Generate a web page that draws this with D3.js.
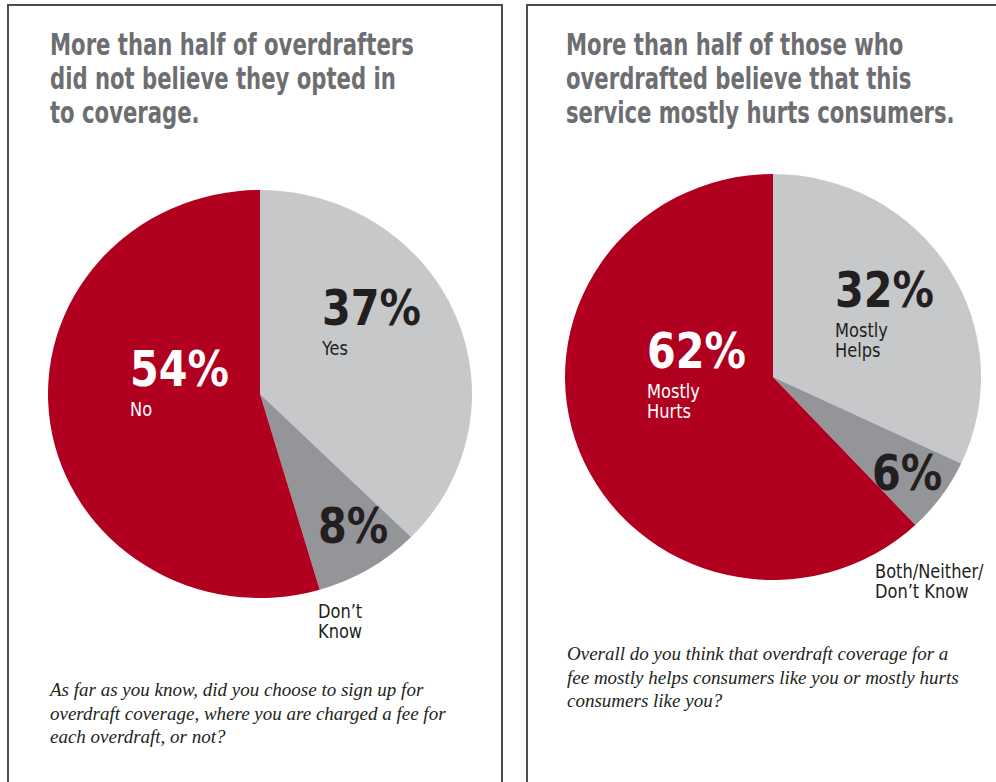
<!DOCTYPE html>
<html>
<head>
<meta charset="utf-8">
<script src="https://cdn.jsdelivr.net/npm/d3@7"></script>
<style>
  body { margin: 0; background: #fff; }
  .title { font-family: "Liberation Sans Narrow", "DejaVu Sans Condensed", "DejaVu Sans", sans-serif; font-weight: bold; fill: #6d6e71; font-size: 30px; }
  .pct { font-family: "Liberation Sans Narrow", "DejaVu Sans Condensed", "DejaVu Sans", sans-serif; font-weight: bold; font-size: 50px; }
  .lbl { font-family: "Liberation Sans Narrow", "DejaVu Sans Condensed", "DejaVu Sans", sans-serif; font-size: 19px; }
  .note { font-family: "Liberation Serif", "DejaVu Serif", serif; font-style: italic; fill: #231f20; font-size: 19px; }
</style>
</head>
<body>
<div id="chart"></div>
<script>
// left pie: did you opt in
const optCategories = ['Yes', "Don\u2019t Know", 'No'];
const optValues = [37, 8, 54];
// right pie: helps or hurts
const helpCategories = ['Mostly Helps', 'Both/Neither/Don\u2019t Know', 'Mostly Hurts'];
const helpValues = [32, 6, 62];

const titles = [
    ['More than half of overdrafters', 'did not believe they opted in', 'to coverage.'],
    ['More than half of those who', 'overdrafted believe that this', 'service mostly hurts consumers.']
];
const notes = [
    ['As far as you know, did you choose to sign up for', 'overdraft coverage, where you are charged a fee for', 'each overdraft, or not?'],
    ['Overall do you think that overdraft coverage for a', 'fee mostly helps consumers like you or mostly hurts', 'consumers like you?']
];

const width = 996, height = 782;
const colors = d3.scaleOrdinal().domain([0, 1, 2]).range(['#c7c8ca', '#939598', '#b1001f']);

// the installed sans is wider than the condensed face of the original
const squeeze = {title: 0.785, pct: 0.92, lbl: 0.95};

const svg = d3.select('#chart').append('svg')
    .attr('width', width)
    .attr('height', height);

const panels = [
    {x: 8, w: 494, cx: 260, cy: 394, rx: 212, ry: 204, tx: 50, nx: 50, noteY: 696,
     cats: optCategories, vals: optValues,
     labels: [
        {dx: 62, dy: -69, sub: ['Yes'], color: '#231f20'},
        {dx: 58, dy: 149, sub: ["Don\u2019t", 'Know'], subDy: 75, color: '#231f20'},
        {dx: -130, dy: -8, sub: ['No'], color: '#fff'}
     ]},
    {x: 527, w: 480, cx: 773, cy: 377, rx: 208, ry: 203, tx: 566, nx: 567, noteY: 660,
     cats: helpCategories, vals: helpValues,
     labels: [
        {dx: 62, dy: -70, sub: ['Mostly', 'Helps'], color: '#231f20'},
        {dx: 99, dy: 113, sub: ['Both/Neither/', "Don\u2019t Know"], subDy: 88, subDx: 3, color: '#231f20'},
        {dx: -126, dy: -9, sub: ['Mostly', 'Hurts'], color: '#fff'}
     ]}
];

const pie = d3.pie().value(d => d).sort(null);

panels.forEach((p, k) => {
    svg.append('rect')
        .attr('x', p.x).attr('y', 5)
        .attr('width', p.w).attr('height', height)
        .style('fill', 'none')
        .style('stroke', '#4d4d4f')
        .style('stroke-width', 2);

    svg.append('text')
        .attr('class', 'title')
        .attr('transform', `translate(${p.tx}, 0) scale(${squeeze.title}, 1)`)
        .selectAll('tspan')
        .data(titles[k])
        .enter().append('tspan')
            .attr('x', 0)
            .attr('y', (d, i) => 55 + i * 34)
            .text(d => d);

    const arc = d3.arc().innerRadius(0).outerRadius(p.ry);
    const g = svg.append('g')
        .attr('transform', `translate(${p.cx}, ${p.cy}) scale(${p.rx / p.ry}, 1)`);
    g.selectAll('.arc')
        .data(pie(p.vals))
        .enter().append('path')
            .attr('class', 'arc')
            .attr('d', arc)
            .style('fill', (d, i) => colors(i));

    const lg = svg.append('g')
        .attr('transform', `translate(${p.cx}, ${p.cy})`);
    p.labels.forEach((l, i) => {
        lg.append('text')
            .attr('class', 'pct')
            .attr('transform', `translate(${l.dx}, ${l.dy}) scale(${squeeze.pct}, 1)`)
            .style('fill', l.color)
            .text(p.vals[i] + '%');
        lg.append('text')
            .attr('class', 'lbl')
            .attr('transform', `translate(${l.dx + (l.subDx || 0)}, ${l.dy + (l.subDy || 30)}) scale(${squeeze.lbl}, 1)`)
            .style('fill', l.color)
            .selectAll('tspan')
            .data(l.sub)
            .enter().append('tspan')
                .attr('x', 0)
                .attr('y', (d, j) => j * 20)
                .text(d => d);
    });

    svg.append('text')
        .attr('class', 'note')
        .selectAll('tspan')
        .data(notes[k])
        .enter().append('tspan')
            .attr('x', p.nx)
            .attr('y', (d, i) => p.noteY + i * 23.5)
            .text(d => d);
});
</script>
</body>
</html>
